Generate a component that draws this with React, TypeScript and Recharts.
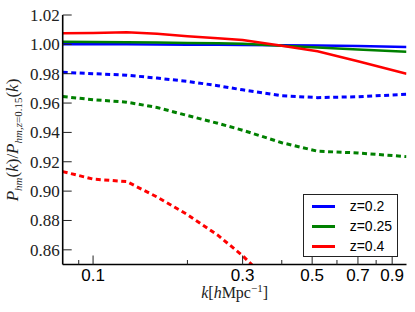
import React from 'react';
import { LineChart, Line, XAxis, YAxis, Legend } from 'recharts';

const kValues = [0.08, 0.1, 0.128, 0.16, 0.2, 0.25, 0.3, 0.4, 0.52, 0.7, 1.0];
const z02Solid = [1.0, 1.0, 1.0, 0.9999, 0.9998, 0.9997, 0.9996, 0.9994, 0.9992, 0.9988, 0.9982];
const z025Solid = [1.0018, 1.0016, 1.0014, 1.0012, 1.001, 1.0007, 1.0004, 0.999, 0.9978, 0.9965, 0.995];
const z04Solid = [1.0075, 1.0078, 1.0082, 1.0072, 1.0055, 1.0042, 1.003, 0.999, 0.9953, 0.9885, 0.98];
const z02Dashed = [0.981, 0.98, 0.979, 0.977, 0.9748, 0.9718, 0.969, 0.965, 0.9637, 0.9643, 0.966];
const z025Dashed = [0.9644, 0.9623, 0.9606, 0.957, 0.9515, 0.9462, 0.9415, 0.933, 0.9272, 0.926, 0.9235];
const z04Dashed = [0.9133, 0.9082, 0.9065, 0.896, 0.884, 0.87, 0.856, 0.83, 0.8, null, null];

const xMajorTicks = [0.1, 0.3, 0.5, 0.7, 0.9];
const xTicks = [0.09, 0.1, 0.2, 0.3, 0.4, 0.5, 0.6, 0.7, 0.8, 0.9];
const yTicks = [0.86, 0.88, 0.9, 0.92, 0.94, 0.96, 0.98, 1.0, 1.02];

const data = kValues.map((k, i) => ({
  k,
  b: z02Solid[i],
  g: z025Solid[i],
  r: z04Solid[i],
  bd: z02Dashed[i],
  gd: z025Dashed[i],
  rd: z04Dashed[i],
}));

const TICK = '#222';
const MAJOR = 9;
const MINOR = 4.5;

const isMajor = (v: number) => xMajorTicks.some((m) => Math.abs(m - v) < 1e-9);

const BottomTick = (props: any) => {
  const { x, y, payload } = props;
  const major = isMajor(payload.value);
  return (
    <g>
      <line x1={x} x2={x} y1={y} y2={y - (major ? MAJOR : MINOR)} stroke={TICK} strokeWidth={1} />
      {major && (
        <text x={x} y={y + 16} textAnchor="middle" fontFamily="'Liberation Sans', Arial, sans-serif" fontSize={17} fill="#000">
          {String(payload.value)}
        </text>
      )}
    </g>
  );
};

const TopTick = (props: any) => {
  const { x, y, payload } = props;
  const major = isMajor(payload.value);
  return <line x1={x} x2={x} y1={y} y2={y + (major ? MAJOR : MINOR)} stroke={TICK} strokeWidth={1} />;
};

const LeftTick = (props: any) => {
  const { x, y, payload } = props;
  return (
    <g>
      <line x1={x} x2={x + MAJOR} y1={y} y2={y} stroke={TICK} strokeWidth={1} />
      <text x={x - 3} y={y + 6} textAnchor="end" fontFamily="'Liberation Serif', 'Times New Roman', serif" fontSize={17} fill="#222">
        {Number(payload.value).toFixed(2)}
      </text>
    </g>
  );
};

const RightTick = (props: any) => {
  const { x, y } = props;
  return <line x1={x} x2={x - MAJOR} y1={y} y2={y} stroke={TICK} strokeWidth={1} />;
};

const XLabel = (props: any) => {
  const vb = props.viewBox || {};
  const cx = vb.x + vb.width / 2;
  const cy = vb.y + 33;
  return (
    <text x={cx} y={cy} textAnchor="middle" fontFamily="'Liberation Serif', serif" fontSize={16} fill="#222">
      <tspan fontStyle="italic">k</tspan>
      <tspan>[</tspan>
      <tspan fontStyle="italic">h</tspan>
      <tspan>Mpc</tspan>
      <tspan dy={-6} fontSize={11}>−1</tspan>
      <tspan dy={6}>]</tspan>
    </text>
  );
};

const YLabel = () => {
  const cx = 18;
  const cy = 140;
  return (
    <text
      x={cx}
      y={cy}
      transform={`rotate(-90 ${cx} ${cy})`}
      textAnchor="middle"
      fontFamily="'Liberation Serif', serif"
      fontSize={17}
      fill="#222"
    >
      <tspan fontStyle="italic">P</tspan>
      <tspan fontStyle="italic" fontSize={11} dy={4}>hm</tspan>
      <tspan dy={-4}>(</tspan>
      <tspan fontStyle="italic">k</tspan>
      <tspan>)/</tspan>
      <tspan fontStyle="italic">P</tspan>
      <tspan fontStyle="italic" fontSize={11} dy={4}>hm,z</tspan>
      <tspan fontSize={11}>=0.15</tspan>
      <tspan dy={-4}>(</tspan>
      <tspan fontStyle="italic">k</tspan>
      <tspan>)</tspan>
    </text>
  );
};

const LegendBox = (props: any) => {
  const payload = (props.payload || []).filter((p: any) => p.type !== 'none');
  return (
    <div
      style={{
        boxSizing: 'border-box',
        width: 95,
        height: 63,
        border: '1px solid #222',
        background: '#fff',
        paddingTop: 1,
      }}
    >
      {payload.map((p: any) => (
        <div key={p.value} style={{ height: 20, position: 'relative' }}>
          <div style={{ position: 'absolute', left: 8, top: 9, width: 23, height: 2.5, background: p.color }} />
          <span
            style={{
              position: 'absolute',
              left: 46,
              top: 1,
              fontFamily: "'Liberation Sans', Arial, sans-serif",
              fontSize: 14,
              lineHeight: '18px',
              color: '#000',
            }}
          >
            {p.value}
          </span>
        </div>
      ))}
    </div>
  );
};

export default function App() {
  return (
    <div style={{ position: 'absolute', left: 0, top: 0, width: 415, height: 312, background: '#fff' }}>
      <LineChart width={415} height={312} data={data} margin={{ top: 15, right: 8.5, left: 0, bottom: 0 }}>
        <XAxis
          dataKey="k"
          type="number"
          scale="log"
          domain={[0.08, 1.0]}
          allowDataOverflow
          ticks={xTicks}
          interval={0}
          tick={<BottomTick />}
          tickLine={false}
          tickSize={0}
          tickMargin={0}
          height={47.5}
          axisLine={{ stroke: '#000', strokeWidth: 1.6 }}
          label={<XLabel />}
        />
        <XAxis
          xAxisId="top"
          orientation="top"
          dataKey="k"
          type="number"
          scale="log"
          domain={[0.08, 1.0]}
          allowDataOverflow
          ticks={xTicks}
          interval={0}
          tick={<TopTick />}
          tickLine={false}
          tickSize={0}
          tickMargin={0}
          height={0}
          axisLine={{ stroke: '#000', strokeWidth: 1.6 }}
        />
        <YAxis
          type="number"
          domain={[0.85, 1.02]}
          allowDataOverflow
          ticks={yTicks}
          interval={0}
          tick={<LeftTick />}
          tickLine={false}
          tickSize={0}
          tickMargin={0}
          width={62.7}
          axisLine={{ stroke: '#000', strokeWidth: 1.6 }}
          label={<YLabel />}
        />
        <YAxis
          yAxisId="right"
          orientation="right"
          type="number"
          domain={[0.85, 1.02]}
          allowDataOverflow
          ticks={yTicks}
          interval={0}
          tick={<RightTick />}
          tickLine={false}
          tickSize={0}
          tickMargin={0}
          width={0}
          axisLine={{ stroke: '#000', strokeWidth: 1.6 }}
        />
        <Legend
          layout="horizontal"
          verticalAlign="middle"
          align="center"
          content={<LegendBox />}
          wrapperStyle={{ position: 'absolute', left: 302.7, top: 194.3, width: 95, height: 63 }}
        />
        <Line dataKey="b" name="z=0.2" stroke="#0000ff" strokeWidth={2.5} dot={false} isAnimationActive={false} />
        <Line dataKey="g" name="z=0.25" stroke="#008000" strokeWidth={2.5} dot={false} isAnimationActive={false} />
        <Line dataKey="r" name="z=0.4" stroke="#ff0000" strokeWidth={2.5} dot={false} isAnimationActive={false} />
        <Line dataKey="bd" name="z=0.2 d" legendType="none" stroke="#0000ff" strokeWidth={3} strokeDasharray="5 3.5" dot={false} isAnimationActive={false} />
        <Line dataKey="gd" name="z=0.25 d" legendType="none" stroke="#008000" strokeWidth={3} strokeDasharray="5 3.5" dot={false} isAnimationActive={false} />
        <Line dataKey="rd" name="z=0.4 d" legendType="none" stroke="#ff0000" strokeWidth={3} strokeDasharray="5 3.5" dot={false} isAnimationActive={false} />
      </LineChart>
    </div>
  );
}
